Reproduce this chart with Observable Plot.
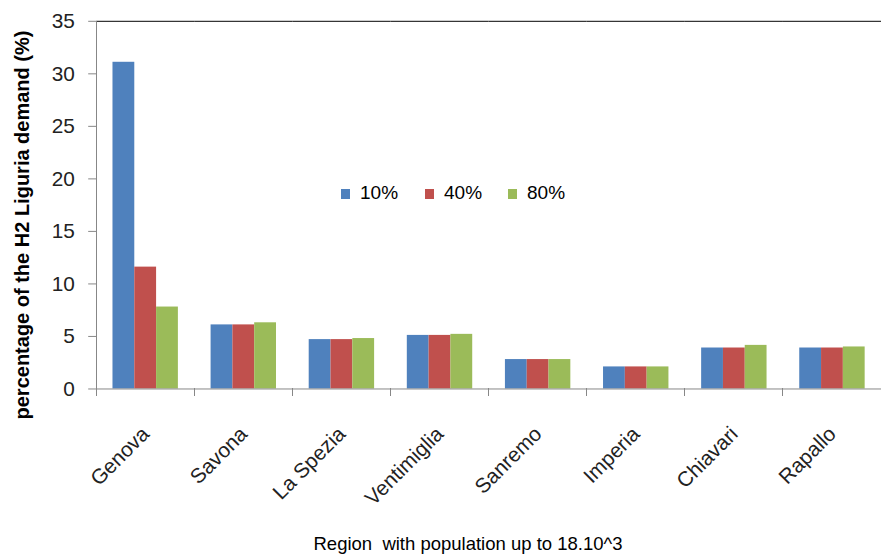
<!DOCTYPE html>
<html><head><meta charset="utf-8">
<script src="https://cdn.jsdelivr.net/npm/d3@7"></script>
<script src="https://cdn.jsdelivr.net/npm/@observablehq/plot@0.6"></script>
<style>
body{margin:0;background:#fff;font-family:"Liberation Sans",Arial,sans-serif}
#wrap{position:relative;width:882px;height:556px;overflow:hidden;background:#fff}
#legend{position:absolute;left:341px;top:182px;font-size:19px;color:#000}
.item{position:absolute;top:0;white-space:nowrap;line-height:22px}
.sw{display:inline-block;width:9px;height:10px;margin-right:10px;vertical-align:0px}
#xtitle{position:absolute;left:0;width:936px;top:533px;text-align:center;font-size:18.5px;color:#000;white-space:pre;line-height:22px}
#ytitle{position:absolute;left:-188px;width:420px;top:213px;line-height:24px;text-align:center;font-size:20px;font-weight:bold;color:#000;white-space:nowrap;transform:rotate(-90deg);transform-origin:50% 50%}
</style></head><body><div id="wrap"><div id="legend"></div><div id="xtitle"></div><div id="ytitle"></div></div>
<script>
const regions = ["Genova","Savona","La Spezia","Ventimiglia","Sanremo","Imperia","Chiavari","Rapallo"];
const scenarios = ["10%","40%","80%"];
const share10 = [31.1, 6.1, 4.7, 5.1, 2.8, 2.1, 3.9, 3.9];
const share40 = [11.6, 6.1, 4.7, 5.1, 2.8, 2.1, 3.9, 3.9];
const share80 = [7.8, 6.3, 4.8, 5.2, 2.8, 2.1, 4.15, 4.0];
const colors = ["#4F81BD","#C0504D","#9BBB59"];
const yTicks = [0,5,10,15,20,25,30,35];
const yTitle = "percentage of the H2 Liguria demand (%)";
const xTitle = "Region  with population up to 18.10^3";

const series = [share10, share40, share80];
const data = regions.flatMap((r, i) => series.map((s, j) => ({region: r, scenario: scenarios[j], value: s[i]})));

const plot = Plot.plot({
  width: 890, height: 556,
  marginLeft: 95.5, marginRight: 0, marginTop: 21, marginBottom: 164,
  style: {fontFamily: "'Liberation Sans', Arial, sans-serif", background: "white", overflow: "visible"},
  fx: {domain: regions, padding: 0, label: null},
  x: {domain: scenarios, paddingInner: 0, paddingOuter: 0.7, axis: null},
  y: {domain: [0, 35], label: null},
  color: {domain: scenarios, range: colors},
  marks: [
    Plot.barY(data, {fx: "region", x: "scenario", y: "value", fill: "scenario"}),
    Plot.ruleY([0], {stroke: "#868686"}),
    Plot.ruleY([35], {stroke: "#000"}),
    Plot.axisY({ticks: yTicks, tickSize: 8, tickPadding: 14, fontSize: 21, label: null, stroke: "#868686", fill: "#222"}),
    Plot.axisFx({anchor: "bottom", tickSize: 0, tickRotate: -45, tickPadding: 42, fontSize: 21, label: null, fill: "#222"})
  ]
});

document.getElementById("wrap").prepend(plot);
document.getElementById("xtitle").textContent = xTitle;
document.getElementById("ytitle").textContent = yTitle;

// category boundary ticks and left axis line, positioned from the scales
const fx = plot.scale("fx");
const y = plot.scale("y");
const svg = d3.select(plot);
const g = svg.append("g").attr("stroke", "#868686").attr("shape-rendering", "crispEdges");
const x0 = fx.apply(regions[0]);
g.append("line").attr("x1", x0).attr("x2", x0).attr("y1", y.apply(35)).attr("y2", y.apply(0) + 8);
regions.forEach((r, i) => {
  if (i === 0) return;
  const xv = fx.apply(r);
  g.append("line").attr("x1", xv).attr("x2", xv).attr("y1", y.apply(0)).attr("y2", y.apply(0) + 8);
});

// legend
const legend = d3.select("#legend");
const offs = [0, 84, 167];
scenarios.forEach((s, i) => {
  const it = legend.append("div").attr("class", "item").style("left", offs[i] + "px");
  it.append("span").attr("class", "sw").style("background", colors[i]);
  it.append("span").text(s);
});
</script>
</body></html>
